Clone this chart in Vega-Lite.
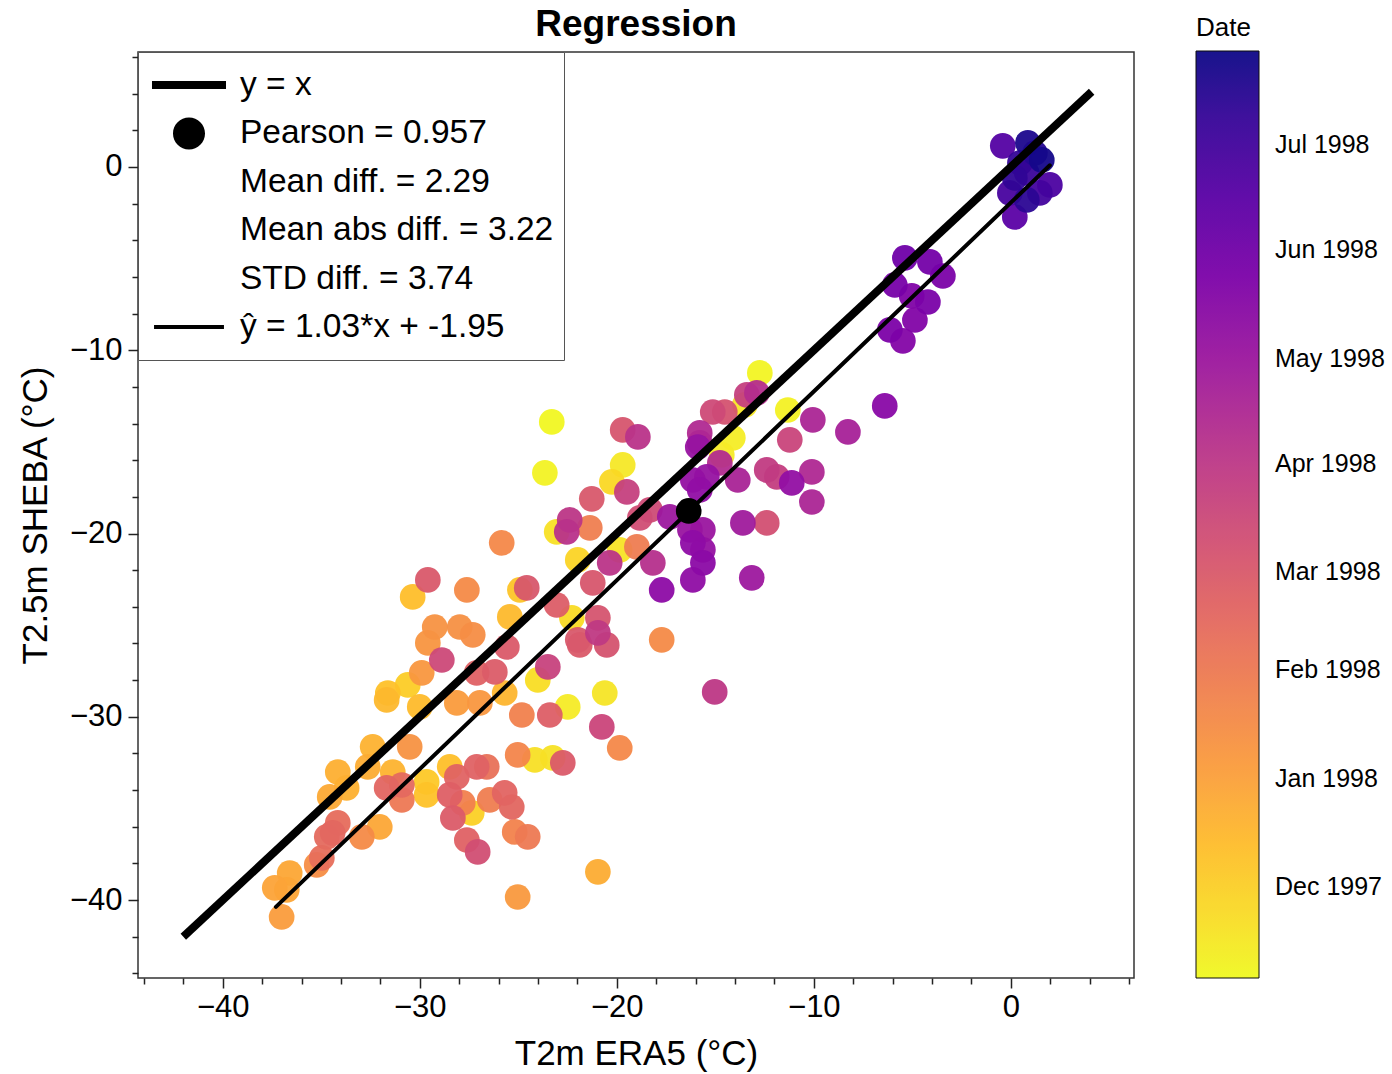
{
  "$schema": "https://vega.github.io/schema/vega-lite/v6.json",
  "width": 996,
  "height": 926,
  "autosize": {"type": "none"},
  "padding": {"left": 138, "top": 52, "right": 258, "bottom": 96},
  "background": "white",
  "config": {"font": "Liberation Sans", "view": {"stroke": "#333", "strokeWidth": 1.5}},
  "title": {"text": "Regression", "fontSize": 37, "fontWeight": "bold", "color": "black", "anchor": "middle", "offset": -29},
  "datasets": {
    "pts": [
      {"era5": -0.41, "sheba": 1.15, "date": "1998-06-20"},
      {"era5": 0.86, "sheba": 1.31, "date": "1998-07-22"},
      {"era5": 1.22, "sheba": 0.76, "date": "1998-07-18"},
      {"era5": 0.46, "sheba": 0.22, "date": "1998-07-10"},
      {"era5": 0.81, "sheba": -0.33, "date": "1998-07-06"},
      {"era5": 1.98, "sheba": -0.98, "date": "1998-06-25"},
      {"era5": -0.05, "sheba": -1.42, "date": "1998-06-28"},
      {"era5": 1.47, "sheba": -1.42, "date": "1998-07-01"},
      {"era5": 0.20, "sheba": -2.73, "date": "1998-06-15"},
      {"era5": 0.81, "sheba": -1.80, "date": "1998-07-15"},
      {"era5": 0.20, "sheba": -0.60, "date": "1998-07-12"},
      {"era5": 1.57, "sheba": 0.38, "date": "1998-07-25"},
      {"era5": -5.38, "sheba": -4.96, "date": "1998-06-02"},
      {"era5": -4.11, "sheba": -5.18, "date": "1998-05-30"},
      {"era5": -3.45, "sheba": -5.95, "date": "1998-05-25"},
      {"era5": -5.89, "sheba": -6.44, "date": "1998-05-28"},
      {"era5": -5.03, "sheba": -7.04, "date": "1998-05-22"},
      {"era5": -4.21, "sheba": -7.37, "date": "1998-05-26"},
      {"era5": -4.87, "sheba": -8.35, "date": "1998-05-20"},
      {"era5": -6.14, "sheba": -8.89, "date": "1998-05-24"},
      {"era5": -5.48, "sheba": -9.49, "date": "1998-05-18"},
      {"era5": -6.40, "sheba": -13.04, "date": "1998-05-15"},
      {"era5": -8.27, "sheba": -14.46, "date": "1998-04-22"},
      {"era5": -10.05, "sheba": -13.80, "date": "1998-04-18"},
      {"era5": -11.22, "sheba": -14.89, "date": "1998-03-20"},
      {"era5": -12.74, "sheba": -11.24, "date": "1997-11-08"},
      {"era5": -11.32, "sheba": -13.26, "date": "1997-11-10"},
      {"era5": -13.40, "sheba": -12.44, "date": "1998-03-25"},
      {"era5": -12.89, "sheba": -12.33, "date": "1998-04-10"},
      {"era5": -14.52, "sheba": -13.37, "date": "1998-03-08"},
      {"era5": -14.11, "sheba": -14.78, "date": "1997-11-12"},
      {"era5": -14.67, "sheba": -15.71, "date": "1997-11-14"},
      {"era5": -13.50, "sheba": -12.98, "date": "1997-11-16"},
      {"era5": -15.79, "sheba": -15.06, "date": "1998-04-16"},
      {"era5": -15.43, "sheba": -16.91, "date": "1998-05-05"},
      {"era5": -14.77, "sheba": -16.15, "date": "1998-04-12"},
      {"era5": -13.86, "sheba": -17.08, "date": "1998-04-20"},
      {"era5": -12.39, "sheba": -16.53, "date": "1998-03-28"},
      {"era5": -11.88, "sheba": -16.91, "date": "1998-03-26"},
      {"era5": -11.12, "sheba": -17.24, "date": "1998-05-08"},
      {"era5": -10.10, "sheba": -16.64, "date": "1998-04-15"},
      {"era5": -10.10, "sheba": -18.28, "date": "1998-04-18"},
      {"era5": -13.60, "sheba": -19.42, "date": "1998-04-28"},
      {"era5": -12.39, "sheba": -19.42, "date": "1998-03-10"},
      {"era5": -13.15, "sheba": -22.42, "date": "1998-04-30"},
      {"era5": -15.63, "sheba": -19.80, "date": "1998-05-02"},
      {"era5": -15.63, "sheba": -20.89, "date": "1998-05-06"},
      {"era5": -15.63, "sheba": -21.60, "date": "1998-05-13"},
      {"era5": -16.14, "sheba": -22.53, "date": "1998-05-10"},
      {"era5": -23.30, "sheba": -13.91, "date": "1997-11-06"},
      {"era5": -23.65, "sheba": -16.69, "date": "1997-11-09"},
      {"era5": -19.70, "sheba": -14.35, "date": "1998-03-05"},
      {"era5": -18.93, "sheba": -14.73, "date": "1998-04-05"},
      {"era5": -19.70, "sheba": -16.26, "date": "1997-11-15"},
      {"era5": -20.25, "sheba": -17.18, "date": "1997-11-25"},
      {"era5": -19.49, "sheba": -17.73, "date": "1998-03-24"},
      {"era5": -21.27, "sheba": -18.11, "date": "1998-03-02"},
      {"era5": -22.39, "sheba": -19.26, "date": "1998-04-02"},
      {"era5": -22.54, "sheba": -19.91, "date": "1998-04-06"},
      {"era5": -21.37, "sheba": -19.69, "date": "1998-01-28"},
      {"era5": -23.05, "sheba": -19.91, "date": "1997-11-20"},
      {"era5": -18.83, "sheba": -19.15, "date": "1998-03-12"},
      {"era5": -18.32, "sheba": -18.71, "date": "1998-03-14"},
      {"era5": -18.98, "sheba": -20.73, "date": "1998-01-30"},
      {"era5": -15.79, "sheba": -14.51, "date": "1998-04-14"},
      {"era5": -15.89, "sheba": -15.28, "date": "1998-05-04"},
      {"era5": -15.13, "sheba": -13.37, "date": "1998-03-15"},
      {"era5": -16.14, "sheba": -17.08, "date": "1998-05-07"},
      {"era5": -15.79, "sheba": -17.62, "date": "1998-05-09"},
      {"era5": -17.31, "sheba": -19.09, "date": "1998-05-01"},
      {"era5": -16.29, "sheba": -19.80, "date": "1998-05-03"},
      {"era5": -16.14, "sheba": -20.51, "date": "1998-05-11"},
      {"era5": -19.85, "sheba": -20.89, "date": "1997-11-18"},
      {"era5": -21.98, "sheba": -21.44, "date": "1997-11-28"},
      {"era5": -20.36, "sheba": -21.60, "date": "1998-04-04"},
      {"era5": -18.17, "sheba": -21.60, "date": "1998-04-09"},
      {"era5": -25.84, "sheba": -20.51, "date": "1998-01-20"},
      {"era5": -29.59, "sheba": -22.53, "date": "1998-03-01"},
      {"era5": -30.36, "sheba": -23.46, "date": "1997-12-12"},
      {"era5": -27.61, "sheba": -23.08, "date": "1998-01-18"},
      {"era5": -24.57, "sheba": -22.97, "date": "1998-03-03"},
      {"era5": -24.92, "sheba": -23.08, "date": "1997-12-08"},
      {"era5": -21.22, "sheba": -22.69, "date": "1998-03-04"},
      {"era5": -23.05, "sheba": -23.90, "date": "1998-02-25"},
      {"era5": -25.43, "sheba": -24.55, "date": "1997-12-15"},
      {"era5": -20.96, "sheba": -24.60, "date": "1998-03-06"},
      {"era5": -29.24, "sheba": -25.10, "date": "1998-01-12"},
      {"era5": -27.97, "sheba": -25.10, "date": "1998-01-14"},
      {"era5": -27.31, "sheba": -25.53, "date": "1998-01-16"},
      {"era5": -25.58, "sheba": -26.19, "date": "1998-02-28"},
      {"era5": -21.98, "sheba": -25.80, "date": "1998-03-02"},
      {"era5": -20.96, "sheba": -25.42, "date": "1998-03-30"},
      {"era5": -20.51, "sheba": -26.08, "date": "1998-03-07"},
      {"era5": -29.59, "sheba": -25.97, "date": "1998-01-10"},
      {"era5": -28.88, "sheba": -26.90, "date": "1998-03-16"},
      {"era5": -29.90, "sheba": -27.60, "date": "1998-01-08"},
      {"era5": -26.19, "sheba": -27.55, "date": "1998-02-26"},
      {"era5": -27.11, "sheba": -27.60, "date": "1998-02-22"},
      {"era5": -23.50, "sheba": -27.28, "date": "1998-03-22"},
      {"era5": -24.01, "sheba": -27.99, "date": "1997-11-22"},
      {"era5": -25.69, "sheba": -28.70, "date": "1997-12-18"},
      {"era5": -31.62, "sheba": -28.70, "date": "1997-12-10"},
      {"era5": -30.61, "sheba": -28.26, "date": "1997-12-03"},
      {"era5": -30.00, "sheba": -29.46, "date": "1997-12-14"},
      {"era5": -28.12, "sheba": -29.24, "date": "1998-01-05"},
      {"era5": -26.95, "sheba": -29.24, "date": "1998-01-08"},
      {"era5": -24.82, "sheba": -29.90, "date": "1998-01-25"},
      {"era5": -23.40, "sheba": -29.90, "date": "1998-02-24"},
      {"era5": -22.49, "sheba": -29.46, "date": "1997-11-13"},
      {"era5": -20.61, "sheba": -28.70, "date": "1997-11-17"},
      {"era5": -20.76, "sheba": -30.55, "date": "1998-03-19"},
      {"era5": -31.68, "sheba": -29.08, "date": "1997-12-16"},
      {"era5": -32.39, "sheba": -31.64, "date": "1997-12-20"},
      {"era5": -30.51, "sheba": -31.64, "date": "1998-01-12"},
      {"era5": -34.16, "sheba": -33.01, "date": "1997-12-22"},
      {"era5": -32.64, "sheba": -32.73, "date": "1997-12-24"},
      {"era5": -34.57, "sheba": -34.37, "date": "1997-12-26"},
      {"era5": -33.71, "sheba": -33.88, "date": "1997-12-21"},
      {"era5": -31.37, "sheba": -33.01, "date": "1997-12-19"},
      {"era5": -31.68, "sheba": -33.88, "date": "1998-02-18"},
      {"era5": -30.91, "sheba": -33.72, "date": "1998-02-15"},
      {"era5": -30.91, "sheba": -34.53, "date": "1998-02-02"},
      {"era5": -29.65, "sheba": -33.55, "date": "1997-12-05"},
      {"era5": -29.65, "sheba": -34.26, "date": "1997-12-09"},
      {"era5": -28.48, "sheba": -32.73, "date": "1997-12-11"},
      {"era5": -28.12, "sheba": -33.28, "date": "1998-02-20"},
      {"era5": -27.11, "sheba": -32.73, "date": "1998-02-21"},
      {"era5": -26.60, "sheba": -32.73, "date": "1998-02-08"},
      {"era5": -28.48, "sheba": -34.26, "date": "1998-02-23"},
      {"era5": -27.82, "sheba": -34.70, "date": "1998-01-26"},
      {"era5": -27.36, "sheba": -35.24, "date": "1997-11-30"},
      {"era5": -26.45, "sheba": -34.53, "date": "1998-01-29"},
      {"era5": -25.69, "sheba": -34.15, "date": "1998-02-19"},
      {"era5": -25.33, "sheba": -34.92, "date": "1998-02-17"},
      {"era5": -28.32, "sheba": -35.52, "date": "1998-02-27"},
      {"era5": -25.03, "sheba": -32.08, "date": "1998-01-22"},
      {"era5": -24.16, "sheba": -32.35, "date": "1997-11-21"},
      {"era5": -23.25, "sheba": -32.24, "date": "1997-11-19"},
      {"era5": -25.18, "sheba": -36.28, "date": "1998-01-24"},
      {"era5": -24.52, "sheba": -36.55, "date": "1998-02-01"},
      {"era5": -27.61, "sheba": -36.72, "date": "1998-02-22"},
      {"era5": -27.06, "sheba": -37.37, "date": "1998-03-11"},
      {"era5": -34.42, "sheba": -36.33, "date": "1998-02-16"},
      {"era5": -34.72, "sheba": -36.55, "date": "1998-02-14"},
      {"era5": -34.16, "sheba": -35.79, "date": "1998-02-12"},
      {"era5": -32.94, "sheba": -36.55, "date": "1998-01-18"},
      {"era5": -32.03, "sheba": -36.01, "date": "1997-12-28"},
      {"era5": -34.97, "sheba": -37.70, "date": "1998-02-10"},
      {"era5": -35.23, "sheba": -38.08, "date": "1998-01-16"},
      {"era5": -36.60, "sheba": -38.52, "date": "1997-12-27"},
      {"era5": -37.36, "sheba": -39.33, "date": "1997-12-30"},
      {"era5": -36.75, "sheba": -39.44, "date": "1997-12-29"},
      {"era5": -37.01, "sheba": -40.92, "date": "1998-01-04"},
      {"era5": -25.03, "sheba": -39.83, "date": "1998-01-07"},
      {"era5": -22.28, "sheba": -24.60, "date": "1997-11-23"},
      {"era5": -21.88, "sheba": -26.08, "date": "1998-02-28"},
      {"era5": -17.72, "sheba": -23.08, "date": "1998-05-12"},
      {"era5": -17.72, "sheba": -25.80, "date": "1998-01-18"},
      {"era5": -15.03, "sheba": -28.64, "date": "1998-04-01"},
      {"era5": -22.74, "sheba": -32.51, "date": "1998-02-28"},
      {"era5": -20.96, "sheba": -38.46, "date": "1997-12-24"},
      {"era5": -19.85, "sheba": -31.70, "date": "1998-01-20"}
    ],
    "identity": [{"era5": -42.0, "sheba": -42.0}, {"era5": 4.1, "sheba": 4.1}],
    "fit": [{"era5": -37.3, "sheba": -40.37}, {"era5": 1.98, "sheba": 0.09}],
    "mean": [{"era5": -16.35, "sheba": -18.77}],
    "stats": [
      {"label": "y = x"},
      {"label": "Pearson = 0.957"},
      {"label": "Mean diff. = 2.29"},
      {"label": "Mean abs diff. = 3.22"},
      {"label": "STD diff. = 3.74"},
      {"label": "ŷ = 1.03*x + -1.95"}
    ]
  },
  "layer": [
    {
      "data": {"name": "pts", "format": {"parse": {"date": "date"}}},
      "mark": {"type": "circle", "size": 660, "opacity": 0.95},
      "encoding": {
        "x": {
          "field": "era5", "type": "quantitative",
          "scale": {"domain": [-44.3, 6.25], "nice": false, "zero": false},
          "axis": {
            "title": "T2m ERA5 (°C)", "titleFontSize": 35, "titleFontWeight": "normal", "titleColor": "black", "titlePadding": 14,
            "values": [-44,-42,-40,-38,-36,-34,-32,-30,-28,-26,-24,-22,-20,-18,-16,-14,-12,-10,-8,-6,-4,-2,0,2,4,6],
            "tickCount": 100, "format": "d",
            "labelExpr": "datum.value % 10 === 0 ? datum.label : ''",
            "labelFontSize": 31, "labelColor": "black", "labelPadding": 4, "labelOverlap": false, "labelFlush": false,
            "tickSize": {"condition": {"test": "datum.value % 10 === 0", "value": 10}, "value": 6},
            "tickColor": "#222", "tickWidth": 1.5, "domain": false, "grid": false
          }
        },
        "y": {
          "field": "sheba", "type": "quantitative",
          "scale": {"domain": [-44.25, 6.27], "nice": false, "zero": false},
          "axis": {
            "title": "T2.5m SHEBA (°C)", "titleFontSize": 35, "titleFontWeight": "normal", "titleColor": "black", "titlePadding": 16,
            "values": [-44,-42,-40,-38,-36,-34,-32,-30,-28,-26,-24,-22,-20,-18,-16,-14,-12,-10,-8,-6,-4,-2,0,2,4,6],
            "tickCount": 100, "format": "d",
            "labelExpr": "datum.value % 10 === 0 ? datum.label : ''",
            "labelFontSize": 31, "labelColor": "black", "labelPadding": 6, "labelOverlap": false, "labelFlush": false,
            "tickSize": {"condition": {"test": "datum.value % 10 === 0", "value": 10}, "value": 6},
            "tickColor": "#222", "tickWidth": 1.5, "domain": false, "grid": false
          }
        },
        "order": {"field": "date", "type": "temporal"},
        "color": {
          "field": "date", "type": "quantitative",
          "scale": {"scheme": "plasma", "reverse": true, "nice": false, "zero": false,
            "domain": [878688000000, 901584000000]},
          "legend": {
            "title": "Date", "orient": "none", "legendX": 1058, "legendY": -37, "direction": "vertical",
            "gradientLength": 927, "gradientThickness": 63, "gradientStrokeColor": "black", "gradientStrokeWidth": 1,
            "labelFontSize": 25, "labelColor": "black", "labelOffset": 16, "labelOverlap": false,
            "labelExpr": "utcFormat(datum.value, '%b %Y')",
            "titleFontSize": 26, "titleFontWeight": "normal", "titleColor": "black", "titlePadding": 10,
            "titleAnchor": "start", "titleAlign": "left", "padding": 0,
            "values": [880934400000, 883612800000, 886291200000, 888710400000, 891388800000, 893980800000, 896659200000, 899251200000]
          }
        }
      }
    },
    {
      "data": {"name": "identity"},
      "mark": {"type": "line", "color": "black", "strokeWidth": 8, "strokeCap": "butt"},
      "encoding": {"x": {"field": "era5", "type": "quantitative"}, "y": {"field": "sheba", "type": "quantitative"}}
    },
    {
      "data": {"name": "fit"},
      "mark": {"type": "line", "color": "black", "strokeWidth": 4, "strokeCap": "round"},
      "encoding": {"x": {"field": "era5", "type": "quantitative"}, "y": {"field": "sheba", "type": "quantitative"}}
    },
    {
      "data": {"name": "mean"},
      "mark": {"type": "circle", "size": 660, "color": "black", "opacity": 1},
      "encoding": {"x": {"field": "era5", "type": "quantitative"}, "y": {"field": "sheba", "type": "quantitative"}}
    },
    {
      "data": {"name": "stats"},
      "mark": {"type": "point", "opacity": 0, "filled": true, "color": "black"},
      "encoding": {
        "shape": {
          "field": "label", "type": "nominal",
          "scale": {
            "domain": ["y = x", "Pearson = 0.957", "Mean diff. = 2.29", "Mean abs diff. = 3.22", "STD diff. = 3.74", "ŷ = 1.03*x + -1.95"],
            "range": [
              "M0,-1L0,-1M0,1L0,1M-1.609,-0.174H1.609V0.174H-1.609Z",
              "M0,-1L0,-1M0,1L0,1M-0.696,0A0.696,0.696,0,1,1,0.696,0A0.696,0.696,0,1,1,-0.696,0Z",
              "M0,-1L0,-1M0,1L0,1",
              "M0,-1L0,-1M0,1L0,1",
              "M0,-1L0,-1M0,1L0,1",
              "M0,-1L0,-1M0,1L0,1M-1.52,-0.087H1.52V0.087H-1.52Z"
            ]
          },
          "legend": {
            "title": null, "orient": "none", "legendX": 0, "legendY": 0,
            "padding": 10, "strokeColor": "#555", "fillColor": "white",
            "symbolSize": 2116, "symbolStrokeColor": "black", "symbolFillColor": "black", "symbolStrokeWidth": 0, "symbolOpacity": 1,
            "symbolOffset": 18,
            "labelFontSize": 33.5, "labelColor": "black", "labelOffset": 28, "labelLimit": 600, "rowPadding": 2.4,
            "encode": {"legend": {"update": {"strokeWidth": {"value": 1.5}}}}
          }
        }
      }
    }
  ]
}
